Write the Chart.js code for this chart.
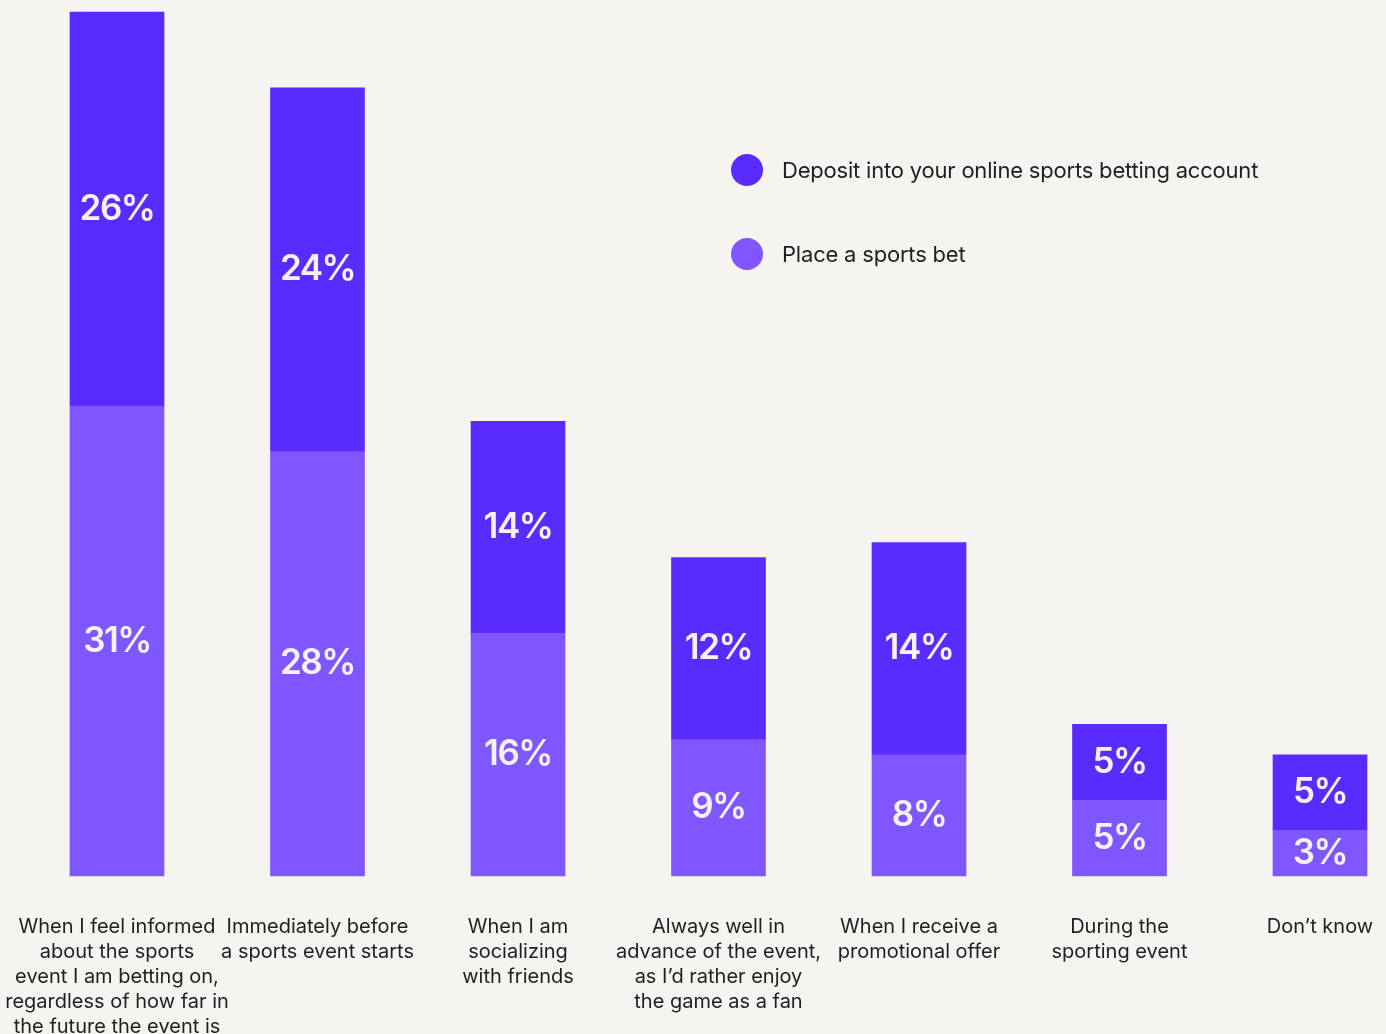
<!DOCTYPE html>
<html>
<head>
<meta charset="utf-8">
<script src="https://cdn.jsdelivr.net/npm/chart.js@4"></script>
<style>
  html, body { margin: 0; padding: 0; background: #f5f4f0; overflow: hidden; }
  #wrap { position: relative; width: 1386px; height: 1034px; }
  #legend { position: absolute; left: 731px; top: 154px; font-family: Inter, "Noto Sans", sans-serif; font-size: 22px; color: #1f1f1f; letter-spacing: -0.2px; }
  .item { display: flex; align-items: center; height: 32px; margin-bottom: 52px; }
  .dot { width: 32px; height: 32px; border-radius: 50%; margin-right: 19px; }
</style>
</head>
<body>
<div id="wrap">
  <canvas id="c" width="1386" height="1034"></canvas>
  <div id="legend"></div>
</div>
<script>
// Survey categories (multi-line axis labels)
const categories = [
  ["When I feel informed", "about the sports", "event I am betting on,", "regardless of how far in", "the future the event is"],
  ["Immediately before", "a sports event starts"],
  ["When I am", "socializing", "with friends"],
  ["Always well in", "advance of the event,", "as I\u2019d rather enjoy", "the game as a fan"],
  ["When I receive a", "promotional offer"],
  ["During the", "sporting event"],
  ["Don\u2019t know"]
];
const placeBet = [31, 28, 16, 9, 8, 5, 3];
const deposit = [26, 24, 14, 12, 14, 5, 5];
const seriesNames = ["Deposit into your online sports betting account", "Place a sports bet"];
const colorDeposit = "#5a2bff";
const colorBet = "#7f56ff";

// HTML legend
const legend = document.getElementById("legend");
[[seriesNames[0], colorDeposit], [seriesNames[1], colorBet]].forEach(([name, col]) => {
  const d = document.createElement("div");
  d.className = "item";
  d.innerHTML = '<span class="dot" style="background:' + col + '"></span><span>' + name + '</span>';
  legend.appendChild(d);
});

// Percentage labels centred in each stacked segment
const segmentLabels = {
  id: "segmentLabels",
  afterDatasetsDraw(chart) {
    const ctx = chart.ctx;
    ctx.save();
    ctx.font = "600 35px Inter, 'Noto Sans', sans-serif";
    if ("letterSpacing" in ctx) ctx.letterSpacing = "-1.5px";
    ctx.fillStyle = "#f4f2f6";
    ctx.textAlign = "center";
    ctx.textBaseline = "middle";
    chart.data.datasets.forEach((ds, i) => {
      const meta = chart.getDatasetMeta(i);
      meta.data.forEach((el, j) => {
        const y = (el.y + el.base) / 2;
        ctx.fillText(ds.data[j] + "%", el.x, y);
      });
    });
    ctx.restore();
  }
};

new Chart(document.getElementById("c"), {
  type: "bar",
  data: {
    labels: categories,
    datasets: [
      { label: seriesNames[1], data: placeBet, backgroundColor: colorBet, barThickness: 94, clip: false },
      { label: seriesNames[0], data: deposit, backgroundColor: colorDeposit, barThickness: 94, clip: false }
    ]
  },
  options: {
    responsive: false,
    animation: false,
    layout: { padding: { top: 12, left: 117, right: 66, bottom: 0 } },
    plugins: { legend: { display: false }, tooltip: { enabled: false } },
    scales: {
      x: {
        stacked: true,
        offset: false,
        grid: { display: false, drawTicks: false },
        border: { display: false },
        ticks: {
          color: "#1f1f1f",
          font: { family: "Inter, 'Noto Sans', sans-serif", size: 20, lineHeight: 1.25 },
          padding: 38,
          maxRotation: 0,
          autoSkip: false
        },
        afterFit(scale) {
          scale.height = 158;
          scale.paddingLeft = 0;
          scale.paddingRight = 0;
        }
      },
      y: {
        stacked: true,
        display: false,
        min: 0,
        max: 57
      }
    }
  },
  plugins: [segmentLabels]
});
</script>
</body>
</html>
